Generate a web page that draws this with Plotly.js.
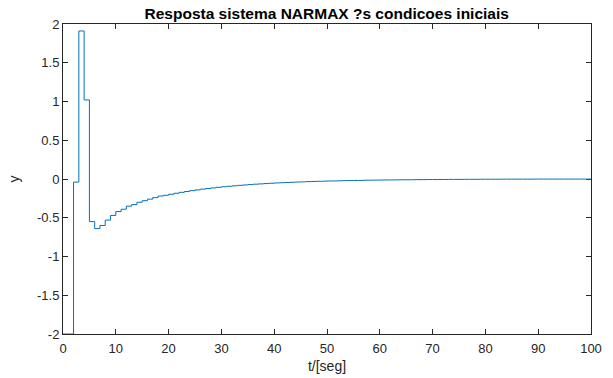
<!DOCTYPE html>
<html>
<head>
<meta charset="utf-8">
<script src="https://cdn.plot.ly/plotly-3.0.1.min.js"></script>
<style>html,body{margin:0;padding:0;background:#fff;}#chart{width:613px;height:378px;}</style>
</head>
<body>
<div id="chart"></div>
<script>
// sample times t = 0..100 (one sample per second)
const tValues = [0,1,2,3,4,5,6,7,8,9,10,11,12,13,14,15,16,17,18,19,20,21,22,23,24,25,26,27,28,29,30,31,32,33,34,35,36,37,38,39,40,41,42,43,44,45,46,47,48,49,50,51,52,53,54,55,56,57,58,59,60,61,62,63,64,65,66,67,68,69,70,71,72,73,74,75,76,77,78,79,80,81,82,83,84,85,86,87,88,89,90,91,92,93,94,95,96,97,98,99,100];
// system response y(t)
const yValues = [-2,-2,-0.04,1.91,1.02,-0.55,-0.64,-0.60,-0.53,-0.47,
  -0.42,-0.39,-0.35,-0.33,-0.30,-0.28,-0.26,-0.24,-0.22,-0.21,
  -0.197,-0.184,-0.172,-0.161,-0.150,-0.141,-0.131,-0.123,-0.115,-0.107,
  -0.100,-0.094,-0.088,-0.082,-0.077,-0.072,-0.067,-0.063,-0.059,-0.055,
  -0.051,-0.048,-0.045,-0.042,-0.039,-0.037,-0.034,-0.032,-0.030,-0.028,
  -0.026,-0.025,-0.023,-0.021,-0.020,-0.019,-0.018,-0.016,-0.015,-0.014,
  -0.013,-0.012,-0.012,-0.011,-0.010,-0.010,-0.009,-0.008,-0.008,-0.007,
  -0.007,-0.006,-0.006,-0.005,-0.005,-0.005,-0.004,-0.004,-0.004,-0.003,
  -0.003,-0.003,-0.003,-0.002,-0.002,-0.002,-0.002,-0.002,-0.002,-0.001,
  -0.001,-0.001,-0.001,-0.001,-0.001,-0.001,-0.001,-0.001,-0.001,-0.001,-0.001];
const xTicks = [0,10,20,30,40,50,60,70,80,90,100];
const yTicks = [-2,-1.5,-1,-0.5,0,0.5,1,1.5,2];
const yTickText = ['-2','-1.5','-1','-0.5','0','0.5','1','1.5','2'];

const FONT = 'Liberation Sans, Arial, sans-serif';
const axisCommon = {
  showgrid:false, zeroline:false, showline:true, linecolor:'#262626', linewidth:1,
  mirror:'ticks', ticks:'inside', ticklen:5, tickcolor:'#262626', tickwidth:1,
  layer:'below traces',
  tickfont:{family:FONT, size:13, color:'#262626'}
};

const data = [{
  x: tValues, y: yValues, type:'scatter', mode:'lines',
  line:{shape:'hv', color:'#0072BD', width:1}, hoverinfo:'none', cliponaxis:false
}];

const layout = {
  width:613, height:378,
  margin:{l:63, r:22, t:24, b:44},
  paper_bgcolor:'#ffffff', plot_bgcolor:'#ffffff',
  showlegend:false,
  title:{text:'<b>Resposta sistema NARMAX ?s condicoes iniciais</b>',
    font:{family:FONT, size:15.5, color:'#000'},
    x:0.533, xanchor:'center', y:0.965, yanchor:'middle'},
  xaxis: Object.assign({}, axisCommon, {
    range:[0,100], tickvals:xTicks, ticktext:xTicks.map(String), ticklabelstandoff:2,
    title:{text:'t/[seg]', font:{family:FONT, size:14, color:'#262626'}, standoff:6}
  }),
  yaxis: Object.assign({}, axisCommon, {
    range:[-2,2], tickvals:yTicks, ticktext:yTickText,
    title:{text:'y', font:{family:FONT, size:14, color:'#262626'}, standoff:14}
  })
};

Plotly.newPlot('chart', data, layout, {staticPlot:true, displayModeBar:false});
</script>
</body>
</html>
